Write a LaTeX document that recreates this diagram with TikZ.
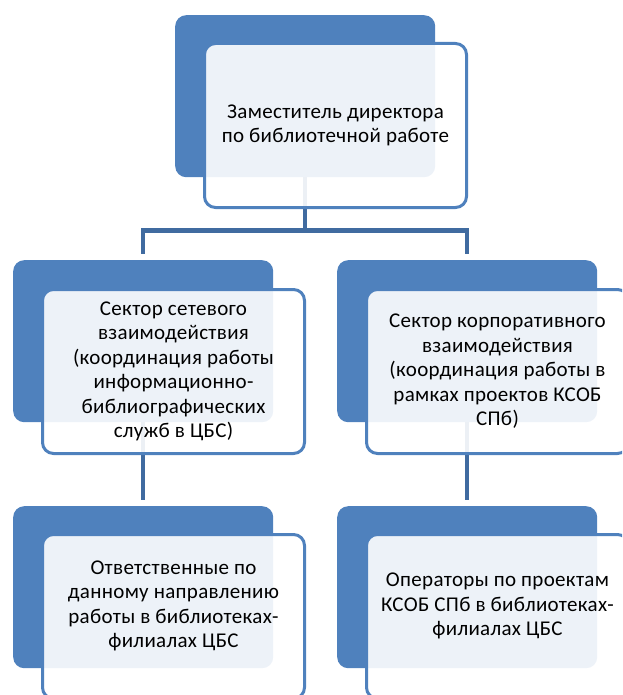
\documentclass[tikz,border=0pt]{standalone}
\usepackage{fontspec}
\setmainfont[LetterSpace=1.5]{Carlito}
\usetikzlibrary{positioning,calc,backgrounds}
\definecolor{orgblue}{RGB}{79,129,189}
\definecolor{linkblue}{RGB}{64,107,160}

\begin{document}
\begin{tikzpicture}[x=1pt,y=-1pt,
  backbox/.style={fill=orgblue, rounded corners=11pt, minimum width=260pt, minimum height=162pt, inner sep=0pt, anchor=north west},
  frontbox/.style={draw=orgblue, line width=3pt, fill=white, fill opacity=0.9, text opacity=1, rounded corners=11pt,
    minimum width=262pt, minimum height=164pt, inner sep=2pt, anchor=north west, align=center,
    font=\fontsize{21}{24.5}\selectfont},
  link/.style={draw=linkblue, line width=4.5pt}]
  \path[use as bounding box, clip] (0,0) rectangle (622,695);

  % back boxes
  \node[backbox] (zamBack) at (175,15) {};
  \node[backbox] (setBack) at (13,260) {};
  \node[backbox] (korpBack) at (337,260) {};
  \node[backbox] (otvetBack) at (13,506) {};
  \node[backbox] (operBack) at (337,506) {};

  % front boxes with the texts
  \node[frontbox] (zam) at (203,42) {Заместитель директора\\по библиотечной работе};
  \node[frontbox] (set) at (41,288) {Сектор сетевого\\взаимодействия\\(координация работы\\информационно-\\библиографических\\служб в ЦБС)};
  \node[frontbox] (korp) at (365,288) {Сектор корпоративного\\взаимодействия\\(координация работы в\\рамках проектов КСОБ\\СПб)};
  \node[frontbox] (otvet) at (41,533) {Ответственные по\\данному направлению\\работы в библиотеках-\\филиалах ЦБС\\~};
  \node[frontbox] (oper) at (365,533) {Операторы по проектам\\КСОБ СПб в библиотеках-\\филиалах ЦБС\\~};

  % connectors
  \begin{scope}[on background layer]
    \coordinate (split) at ($(zamBack.south)+(0,53)$);
    \draw[link, shorten >=6pt] (zamBack.south) -- (split) -| (setBack.north);
    \draw[link, shorten >=6pt] (zamBack.south) -- (split) -| (korpBack.north);
    \draw[link, shorten >=6pt] (setBack.south) -- (otvetBack.north);
    \draw[link, shorten >=6pt] (korpBack.south) -- (operBack.north);
  \end{scope}
\end{tikzpicture}
\end{document}
